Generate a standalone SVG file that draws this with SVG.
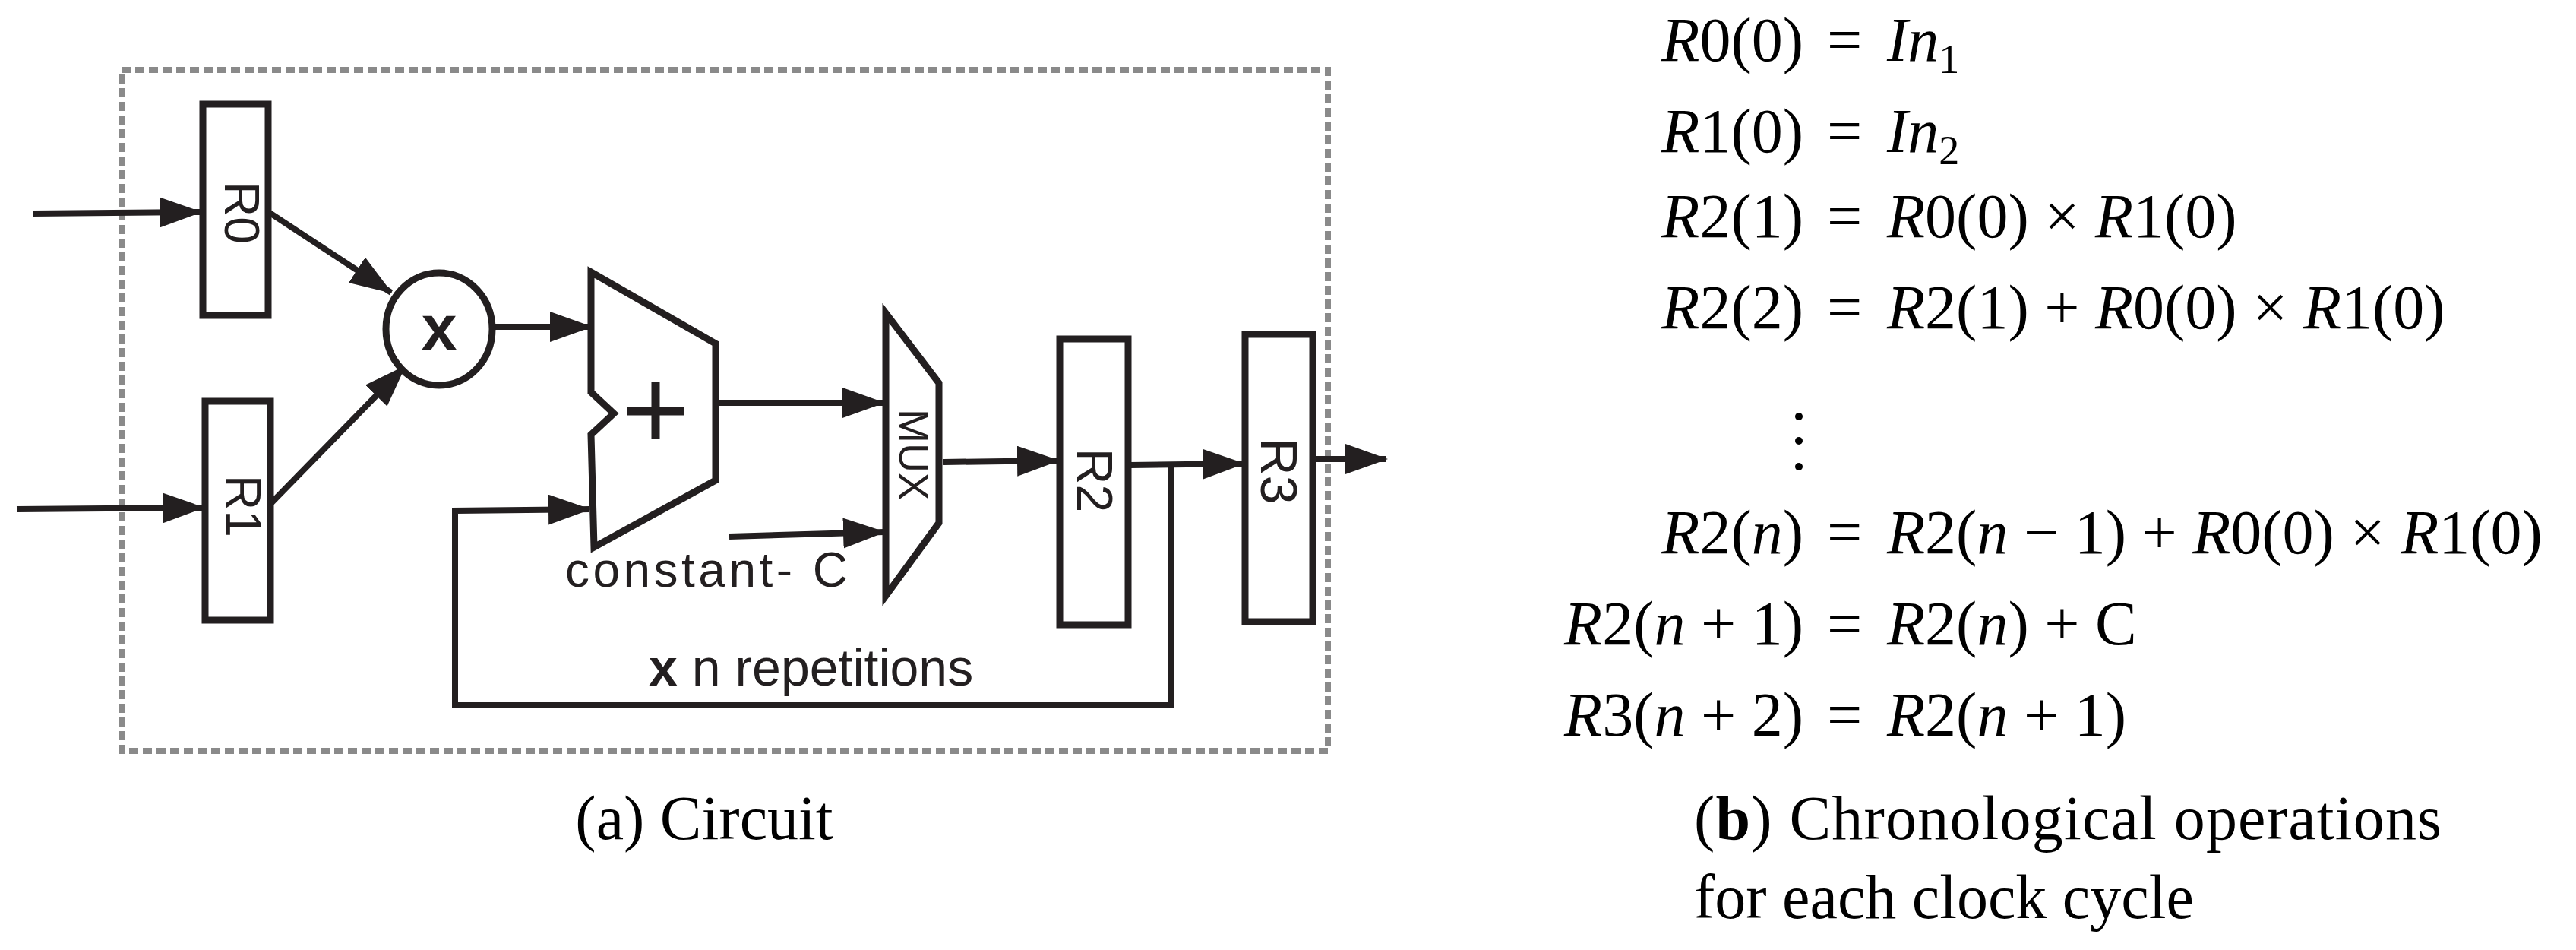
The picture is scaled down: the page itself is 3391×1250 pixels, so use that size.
<svg xmlns="http://www.w3.org/2000/svg" width="3391" height="1250" viewBox="0 0 3391 1250">
<style>
.w{stroke:#231f20;stroke-width:8;fill:none}
.b{stroke:#231f20;stroke-width:9;fill:#fff}
.s{font-family:"Liberation Sans",Arial,sans-serif;fill:#231f20}
.m{font-family:"Liberation Serif","Times New Roman",serif;font-size:82px;fill:#000}
.i{font-style:italic}
</style>
<defs>
<marker id="a" markerUnits="userSpaceOnUse" markerWidth="56" markerHeight="40" refX="54" refY="20" orient="auto">
<path d="M0,0 L56,20 L0,40 Z" fill="#231f20"/>
</marker>
</defs>
<rect width="3391" height="1250" fill="#fff"/>
<rect x="160" y="92" width="1588" height="896" fill="none" stroke="#8a8a8a" stroke-width="8" stroke-dasharray="12 6"/>
<g id="connectors">
<line class="w" x1="43" y1="281" x2="264" y2="279" marker-end="url(#a)"/>
<line class="w" x1="22" y1="670" x2="268" y2="668" marker-end="url(#a)"/>
<line class="w" x1="355" y1="280" x2="515" y2="385" marker-end="url(#a)"/>
<line class="w" x1="357" y1="662" x2="533" y2="482" marker-end="url(#a)"/>
<line class="w" x1="652" y1="430" x2="778" y2="430" marker-end="url(#a)"/>
<line class="w" x1="945" y1="530" x2="1163" y2="530" marker-end="url(#a)"/>
<line class="w" x1="960" y1="706" x2="1164" y2="700" marker-end="url(#a)"/>
<line class="w" x1="1242" y1="608" x2="1393" y2="606" marker-end="url(#a)"/>
<line class="w" x1="1487" y1="612" x2="1637" y2="610" marker-end="url(#a)"/>
<line class="w" x1="1730" y1="604" x2="1825" y2="604" marker-end="url(#a)"/>
<polyline class="w" points="1541,612 1541,928 599,928 599,672 776,670" marker-end="url(#a)"/>
</g>
<g id="R0"><rect class="b" x="267" y="137" width="86" height="278"/><text class="s" font-size="64" transform="translate(296,280) rotate(90)" text-anchor="middle">R0</text></g>
<g id="R1"><rect class="b" x="270" y="528" width="86" height="288"/><text class="s" font-size="64" transform="translate(298,666) rotate(90)" text-anchor="middle">R1</text></g>
<g id="mult"><ellipse class="b" cx="578" cy="433" rx="70" ry="74"/><text class="s" font-size="84" font-weight="bold" x="578" y="460" text-anchor="middle">x</text></g>
<g id="adder"><polygon class="b" points="778,358 942,452 942,632 782,720 778,572 808,544 778,516"/><path d="M863,503 V578 M826,541 H900" stroke="#231f20" stroke-width="11"/></g>
<g id="mux"><polygon class="b" points="1166,412 1236,504 1236,688 1166,784"/><text class="s" font-size="54" transform="translate(1184,598) rotate(90)" text-anchor="middle">MUX</text></g>
<g id="R2"><rect class="b" x="1395" y="446" width="90" height="376"/><text class="s" font-size="66" transform="translate(1418,632) rotate(90)" text-anchor="middle">R2</text></g>
<g id="R3"><rect class="b" x="1639" y="440" width="89" height="378"/><text class="s" font-size="68" transform="translate(1660,620) rotate(90)" text-anchor="middle">R3</text></g>
<text class="s" font-size="64" x="744" y="772" textLength="372">constant- C</text>
<text class="s" font-size="68" x="854" y="902"><tspan font-weight="bold">x</tspan> n repetitions</text>
<text class="m" font-size="70" x="927" y="1104" text-anchor="middle">(a) Circuit</text>
<g id="equations" class="m">
<text x="2374" y="80" text-anchor="end"><tspan class="i">R</tspan>0(0)</text>
<text x="2374" y="200" text-anchor="end"><tspan class="i">R</tspan>1(0)</text>
<text x="2374" y="312" text-anchor="end"><tspan class="i">R</tspan>2(1)</text>
<text x="2374" y="432" text-anchor="end"><tspan class="i">R</tspan>2(2)</text>
<text x="2374" y="728" text-anchor="end"><tspan class="i">R</tspan>2(<tspan class="i">n</tspan>)</text>
<text x="2374" y="848" text-anchor="end"><tspan class="i">R</tspan>2(<tspan class="i">n</tspan> + 1)</text>
<text x="2374" y="968" text-anchor="end"><tspan class="i">R</tspan>3(<tspan class="i">n</tspan> + 2)</text>
<text x="2428" y="80" text-anchor="middle">=</text>
<text x="2428" y="200" text-anchor="middle">=</text>
<text x="2428" y="312" text-anchor="middle">=</text>
<text x="2428" y="432" text-anchor="middle">=</text>
<text x="2428" y="728" text-anchor="middle">=</text>
<text x="2428" y="848" text-anchor="middle">=</text>
<text x="2428" y="968" text-anchor="middle">=</text>
<text x="2484" y="80"><tspan class="i">In</tspan><tspan font-size="54" dy="16">1</tspan></text>
<text x="2484" y="200"><tspan class="i">In</tspan><tspan font-size="54" dy="16">2</tspan></text>
<text x="2484" y="312"><tspan class="i">R</tspan>0(0) × <tspan class="i">R</tspan>1(0)</text>
<text x="2484" y="432"><tspan class="i">R</tspan>2(1) + <tspan class="i">R</tspan>0(0) × <tspan class="i">R</tspan>1(0)</text>
<text x="2484" y="728"><tspan class="i">R</tspan>2(<tspan class="i">n</tspan> − 1) + <tspan class="i">R</tspan>0(0) × <tspan class="i">R</tspan>1(0)</text>
<text x="2484" y="848"><tspan class="i">R</tspan>2(<tspan class="i">n</tspan>) + C</text>
<text x="2484" y="968"><tspan class="i">R</tspan>2(<tspan class="i">n</tspan> + 1)</text>
<circle cx="2368" cy="548" r="5" fill="#000"/><circle cx="2368" cy="580" r="5" fill="#000"/><circle cx="2368" cy="614" r="5" fill="#000"/>
</g>
<text class="m" font-size="78" x="2230" y="1104" textLength="984">(<tspan font-weight="bold">b</tspan>) Chronological operations</text>
<text class="m" font-size="78" x="2230" y="1208">for each clock cycle</text>
</svg>
